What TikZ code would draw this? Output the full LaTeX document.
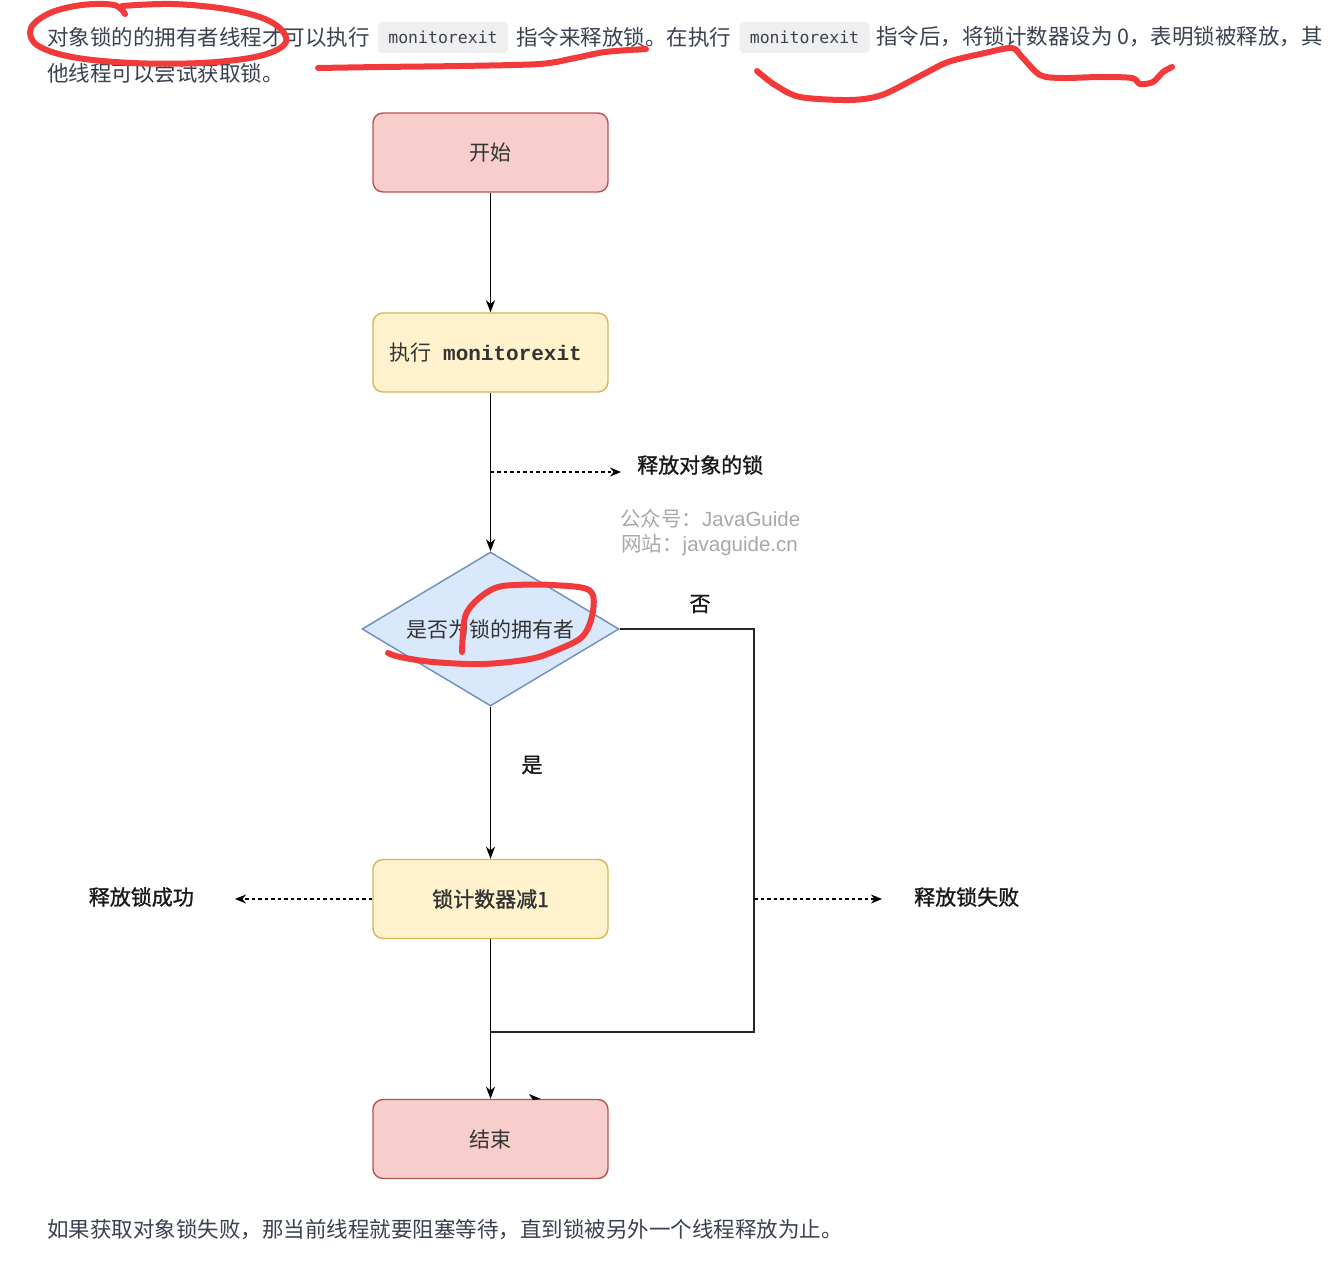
\documentclass[tikz,border=0pt]{standalone}
\usepackage{fontspec}
\setmainfont{Noto Sans CJK SC}
\newfontfamily\semibold{Noto Sans CJK SC}[FakeBold=1.2]
\newfontfamily\codefont{DejaVu Sans Mono}
\newfontfamily\boxmono{Liberation Mono}
\newfontfamily\latinsans{Liberation Sans}
\usetikzlibrary{arrows.meta,shapes.geometric}

\definecolor{para}{HTML}{3A4150}
\definecolor{chipbg}{HTML}{EFEFEF}
\definecolor{redfill}{HTML}{F8CECC}
\definecolor{redline}{HTML}{B85450}
\definecolor{yelfill}{HTML}{FFF2CC}
\definecolor{yelline}{HTML}{D6B656}
\definecolor{bluefill}{HTML}{DAE8FC}
\definecolor{blueline}{HTML}{6C8EBF}
\definecolor{ink}{HTML}{333333}
\definecolor{penred}{RGB}{242,58,58}
\definecolor{wmgray}{HTML}{A8A8A8}

\tikzset{
  paratext/.style={anchor=west, inner sep=0pt, text=para, font=\fontsize{21.5}{26}\selectfont},
  chip/.style={fill=chipbg, rounded corners=4pt, minimum width=130pt, minimum height=31pt,
    inner sep=0pt, text=para, font=\codefont\fontsize{16.5}{20}\selectfont},
  flowbox/.style={rectangle, rounded corners=10pt, minimum width=235pt, minimum height=79pt,
    line width=1.4pt, inner sep=0pt, text=ink, font=\fontsize{21}{24}\selectfont},
  startend/.style={flowbox, fill=redfill, draw=redline},
  proc/.style={flowbox, fill=yelfill, draw=yelline},
  decision/.style={diamond, fill=bluefill, draw=blueline, line width=1.4pt,
    minimum width=257pt, minimum height=154pt, inner sep=0pt},
  nodetext/.style={inner sep=0pt, text=ink, font=\fontsize{21}{24}\selectfont},
  sidelabel/.style={inner sep=0pt, text=black!90, font=\semibold\fontsize{21}{24}\selectfont},
  watermark/.style={anchor=west, inner sep=0pt, text=wmgray, font=\fontsize{20.5}{24}\selectfont},
  tip/.style={-{Stealth[length=12pt,width=9pt,inset=3.5pt]}},
  flow/.style={draw=black, line width=1.6pt, tip},
  plainline/.style={draw=black!85, line width=1.6pt},
  dashflow/.style={draw=black, line width=1.3pt, dash pattern=on 3.5pt off 3pt,
    -{Stealth[length=11pt,width=9pt,inset=3.5pt]}},
  penmark/.style={draw=penred, line width=6pt, line cap=round, line join=round}
}

\begin{document}
\begin{tikzpicture}[x=1pt,y=-1pt]
\path[use as bounding box, fill=white] (0,0) rectangle (1339,1271);

% paragraph above the chart
\node[paratext] (p1) at (47,37) {对象锁的的拥有者线程才可以执行};
\node[chip] (chip1) at (443,37.5) {monitorexit};
\node[paratext] (p2) at (516,37) {指令来释放锁。在执行};
\node[chip] (chip2) at (804.5,37.5) {monitorexit};
\node[paratext] (p3) at (876,37) {指令后，将锁计数器设为 0，表明锁被释放，其};
\node[paratext] (p4) at (47,73) {他线程可以尝试获取锁。};

% paragraph below the chart
\node[paratext] (p5) at (47,1230) {如果获取对象锁失败，那当前线程就要阻塞等待，直到锁被另外一个线程释放为止。};

% flowchart nodes
\node[startend] (start) at (490.5,152.5) {开始};
\node[proc] (exec) at (490.5,352.5) {执行\hspace{12pt}{\boxmono\bfseries monitorexit}\hspace*{10pt}};
\node[decision] (dec) at (490.5,629) {};
\node[nodetext] (dectext) at (dec.center) {是否为锁的拥有者};
\node[proc, font=\semibold\fontsize{21}{24}\selectfont] (cnt) at (490.5,899) {锁计数器减1};
\node[startend] (stop) at (490.5,1139) {结束};

% side labels
\node[sidelabel, anchor=west] (rel) at (637,465) {释放对象的锁};
\node[sidelabel] (no) at (700,604) {否};
\node[sidelabel] (yes) at (532,765) {是};
\node[sidelabel, anchor=east] (ok) at (194,897) {释放锁成功};
\node[sidelabel, anchor=west] (fail) at (914,897) {释放锁失败};

% watermark
\node[watermark] (wm1) at (620,519) {公众号：{\latinsans JavaGuide}};
\node[watermark] (wm2) at (621,545) {网站：{\latinsans javaguide.cn}};

% connectors
\coordinate (tap) at (490.5,472);
\coordinate (turn) at (754,1032);
\coordinate (join) at (490.5,1032);
\coordinate (failtap) at (754,899);

\draw[flow] (start) -- (exec);
\draw[flow] (exec) -- (dec.north);
\draw[dashflow, shorten >=16pt] (tap) -- (tap -| rel.west);
\draw[plainline] (dec.east) -| (turn) -- (join);
\draw[flow] (dec.south) -- (cnt.north);
\draw[dashflow, shorten >=41pt] (cnt.west) -- (cnt.west -| ok.east);
\draw[dashflow, shorten >=32pt] (failtap) -- (failtap -| fail.west);
\draw[flow] (cnt.south) -- (stop.north);
\fill[black] (529,1094) -- (541,1099) -- (533,1100) -- cycle;

% red pen annotations
\draw[penmark] plot[smooth, tension=0.6] coordinates {(125,14) (114,5) (82,5) (50,13) (31,28) (37,45) (72,57) (132,63) (200,63) (255,57) (283,46) (284,33) (265,19) (226,9) (172,4) (122,6)};
\draw[penmark] plot[smooth, tension=0.5] coordinates {(318,68) (380,67) (460,66) (540,64) (575,58) (605,52) (646,49)};
\draw[penmark] plot[smooth, tension=0.5] coordinates {(757,71) (775,85) (800,97) (850,100) (882,95) (920,76) (948,62) (985,53) (1012,48) (1022,57) (1040,75) (1062,78) (1100,77) (1132,78) (1140,84) (1153,82) (1163,72) (1172,67)};
\draw[penmark] plot[smooth, tension=0.55] coordinates {(462,652) (465,617) (477,600) (495,588) (515,585) (552,585) (589,590) (593,611) (583,636) (557,650) (530,659) (483,664) (433,662) (400,657) (388,653)};
\end{tikzpicture}
\end{document}
